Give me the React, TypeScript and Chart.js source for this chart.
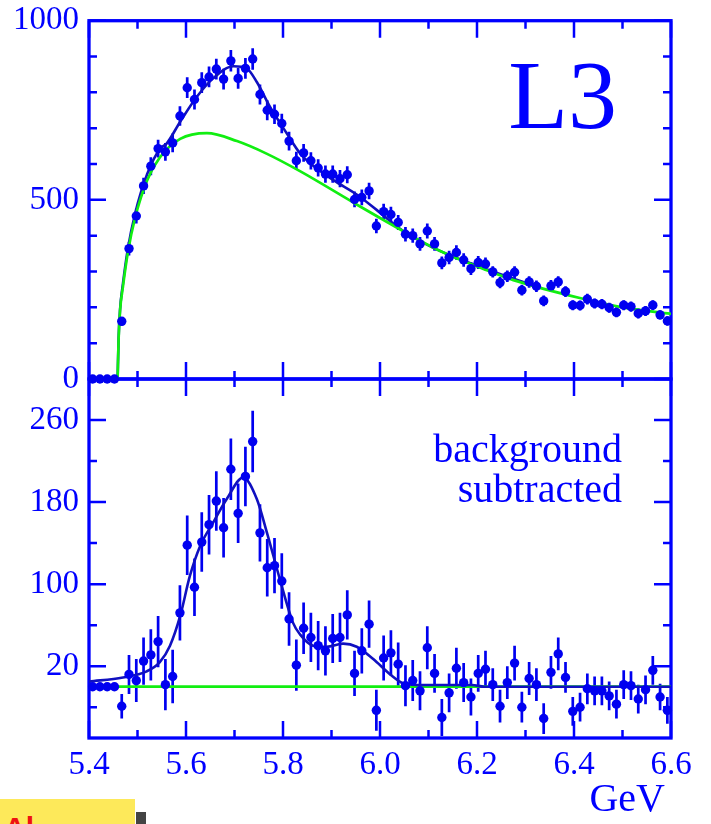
import React, { useEffect, useRef } from 'react';
import { Chart, registerables } from 'chart.js';

Chart.register(...registerables);

// ---------- data ----------
const BIN_CENTERS = [
  5.4075, 5.4225, 5.4375, 5.4525, 5.4675, 5.4825, 5.4975, 5.5125, 5.5275, 5.5425,
  5.5575, 5.5725, 5.5875, 5.6025, 5.6175, 5.6325, 5.6475, 5.6625, 5.6775, 5.6925,
  5.7075, 5.7225, 5.7375, 5.7525, 5.7675, 5.7825, 5.7975, 5.8125, 5.8275, 5.8425,
  5.8575, 5.8725, 5.8875, 5.9025, 5.9175, 5.9325, 5.9475, 5.9625, 5.9775, 5.9925,
  6.0075, 6.0225, 6.0375, 6.0525, 6.0675, 6.0825, 6.0975, 6.1125, 6.1275, 6.1425,
  6.1575, 6.1725, 6.1875, 6.2025, 6.2175, 6.2325, 6.2475, 6.2625, 6.2775, 6.2925,
  6.3075, 6.3225, 6.3375, 6.3525, 6.3675, 6.3825, 6.3975, 6.4125, 6.4275, 6.4425,
  6.4575, 6.4725, 6.4875, 6.5025, 6.5175, 6.5325, 6.5475, 6.5625, 6.5775, 6.5925,
];

const TOP_COUNTS = [
  0, 0, 0, 0, 161, 364, 455, 539, 594, 643,
  634, 659, 734, 813, 780, 827, 843, 865, 837, 888,
  839, 867, 893, 794, 750, 739, 713, 664, 609, 631,
  609, 589, 572, 572, 559, 570, 501, 507, 525, 427,
  467, 459, 437, 404, 400, 377, 413, 377, 324, 339,
  353, 332, 308, 325, 321, 299, 269, 287, 298, 248,
  271, 259, 218, 260, 271, 244, 206, 205, 223, 211,
  209, 199, 186, 206, 202, 183, 190, 206, 179, 162,
];

const BOT_COUNTS = [
  0, 0, 0, 0, -19, 12, 6, 25, 31, 44,
  2, 10, 72, 138, 97, 141, 158, 181, 155, 212,
  169, 205, 239, 150, 116, 118, 103, 66, 21, 57,
  48, 40, 35, 47, 48, 70, 13, 35, 61, -23,
  28, 33, 22, 1, 6, -4, 38, 13, -30, -6,
  18, 4, -10, 13, 17, 2, -19, 4, 23, -20,
  8, 2, -31, 14, 32, 9, -24, -20, -2, -4,
  -4, -9, -17, 2, 1, -12, -3, 16, -10, -23,
];

const ERRORS = [
  0, 0, 0, 0, 12, 19, 21, 23, 25, 25,
  25, 26, 27, 29, 28, 29, 29, 29, 29, 30,
  29, 29, 30, 28, 28, 27, 27, 26, 25, 25,
  24, 24, 24, 24, 24, 24, 22, 22, 23, 20,
  22, 22, 21, 20, 20, 19, 21, 19, 18, 19,
  20, 19, 18, 18, 18, 16, 16, 16, 17, 15,
  16, 16, 15, 16, 16, 15, 14, 14, 15, 14,
  14, 14, 14, 14, 14, 14, 14, 14, 13, 13,
];

// background fit (top panel, green)
const BG_X = [5.459, 5.461, 5.464, 5.470, 5.480, 5.495, 5.520, 5.546, 5.588, 5.643, 5.705, 5.766, 5.835, 5.952, 6.041, 6.124, 6.227, 6.275, 6.412, 6.500, 6.600];
const BG_Y = [0, 110, 190, 258, 352, 450, 555, 618, 670, 686, 664, 629, 580, 487, 418, 357, 300, 276, 226, 200, 182];

// total fit (top panel, blue)
const FIT_TOP_X = [5.459, 5.461, 5.464, 5.470, 5.480, 5.495, 5.520, 5.546, 5.560, 5.588, 5.622, 5.656, 5.698, 5.725, 5.746, 5.773, 5.808, 5.835, 5.856, 5.904, 5.952, 5.993, 6.048, 6.110, 6.200, 6.300];
const FIT_TOP_Y = [0, 112, 194, 266, 362, 461, 572, 642, 657, 718, 787, 839, 873, 867, 829, 760, 685, 630, 602, 555, 515, 472, 413, 366, 316, 268];

// signal fit (bottom panel, blue)
const FIT_BOT_X = [5.400, 5.470, 5.519, 5.546, 5.567, 5.588, 5.608, 5.629, 5.656, 5.684, 5.718, 5.746, 5.767, 5.794, 5.821, 5.835, 5.862, 5.890, 5.924, 5.952, 5.986, 6.021, 6.048, 6.089, 6.190, 6.215, 6.600];
const FIT_BOT_Y = [5, 9, 15, 24, 40, 69, 108, 137, 160, 183, 204, 183, 150, 104, 62, 51, 40, 39, 42, 39, 27, 12, 3.4, 1.6, 1.6, 0, 0];

// background level (bottom panel, green)
const BOT_BG_X = [5.4, 6.6];
const BOT_BG_Y = [0, 0];

// axes
const X_TICKS = [5.4, 5.5, 5.6, 5.7, 5.8, 5.9, 6.0, 6.1, 6.2, 6.3, 6.4, 6.5, 6.6];
const X_LABELED = [5.4, 5.6, 5.8, 6.0, 6.2, 6.4, 6.6];
const TOP_Y_TICKS = [0, 100, 200, 300, 400, 500, 600, 700, 800, 900, 1000];
const TOP_Y_LABELED = [0, 500, 1000];
const BOT_Y_TICKS = [-20, 20, 60, 100, 140, 180, 220, 260];
const BOT_Y_LABELED = [20, 100, 180, 260];

// ---------- styles ----------
const BLUE = '#0000ff';
const POINT_BLUE = '#0000f0';
const FIT_BLUE = '#1010c0';
const GREEN = '#11ee11';
const SERIF = '"Liberation Serif", "Times New Roman", Times, serif';

const pts = (xs: number[], ys: number[]) => xs.map((x, i) => ({ x, y: ys[i] }));
const has = (arr: number[], v: number) => arr.some((a) => Math.abs(a - v) < 1e-6);

type TextItem = { text: string; x: number; y: number; size: number };

const makeDecor = (yTicks: number[], yMajor: number[], values: number[], texts: TextItem[]) => ({
  id: 'decor',
  beforeDatasetsDraw(chart: any) {
    const { ctx, chartArea, scales } = chart;
    const { left, right, top, bottom } = chartArea;
    const xs = scales.x;
    const ys = scales.y;
    ctx.save();
    ctx.strokeStyle = BLUE;
    ctx.lineWidth = 2.5;
    ctx.beginPath();
    X_TICKS.forEach((v) => {
      const px = xs.getPixelForValue(v);
      const len = has(X_LABELED, v) ? 17 : 8;
      ctx.moveTo(px, bottom);
      ctx.lineTo(px, bottom - len);
      ctx.moveTo(px, top);
      ctx.lineTo(px, top + len);
    });
    yTicks.forEach((v) => {
      const py = ys.getPixelForValue(v);
      const len = has(yMajor, v) ? 17 : 8;
      ctx.moveTo(left, py);
      ctx.lineTo(left + len, py);
      ctx.moveTo(right, py);
      ctx.lineTo(right - len, py);
    });
    ctx.stroke();
    ctx.lineWidth = 3.3;
    ctx.strokeRect(left, top, right - left, bottom - top);
    // error bars
    ctx.beginPath();
    BIN_CENTERS.forEach((x, i) => {
      const e = ERRORS[i];
      if (!e) return;
      const px = xs.getPixelForValue(x);
      ctx.moveTo(px, ys.getPixelForValue(values[i] - e));
      ctx.lineTo(px, ys.getPixelForValue(values[i] + e));
    });
    ctx.strokeStyle = POINT_BLUE;
    ctx.lineWidth = 2.7;
    ctx.stroke();
    ctx.restore();
  },
  afterDraw(chart: any) {
    const { ctx } = chart;
    ctx.save();
    ctx.fillStyle = BLUE;
    ctx.textAlign = 'right';
    ctx.textBaseline = 'alphabetic';
    texts.forEach((t) => {
      ctx.font = `${t.size}px ${SERIF}`;
      ctx.fillText(t.text, t.x, t.y);
    });
    ctx.restore();
  },
});

const pointSet = (xs: number[], ys: number[]) => ({
  type: 'scatter' as const,
  data: pts(xs, ys),
  pointRadius: 4.7,
  pointBackgroundColor: POINT_BLUE,
  pointBorderWidth: 0,
  showLine: false,
  clip: false as any,
});

const lineSet = (xs: number[], ys: number[], color: string, width: number) => ({
  type: 'line' as const,
  data: pts(xs, ys),
  borderColor: color,
  borderWidth: width,
  pointRadius: 0,
  fill: false,
  cubicInterpolationMode: 'monotone' as const,
});

const noPad = (s: any) => {
  s.paddingTop = 0;
  s.paddingBottom = 0;
  s.paddingLeft = 0;
  s.paddingRight = 0;
};

const yAxis = (min: number, max: number, ticks: number[], labeled: number[]) => ({
  type: 'linear',
  min,
  max,
  afterFit: (s: any) => {
    s.width = 89;
    noPad(s);
  },
  afterBuildTicks: (s: any) => {
    s.ticks = ticks.map((v) => ({ value: v }));
  },
  grid: { display: false, drawTicks: false },
  border: { display: false },
  ticks: {
    autoSkip: false,
    color: BLUE,
    padding: 10,
    font: { family: SERIF, size: 33 },
    callback: (v: number) => (has(labeled, v) ? String(v) : ''),
  },
});

const topConfig = () => ({
  type: 'scatter',
  data: {
    datasets: [
      pointSet(BIN_CENTERS, TOP_COUNTS),
      lineSet(BG_X, BG_Y, GREEN, 2.7),
      lineSet(FIT_TOP_X, FIT_TOP_Y, FIT_BLUE, 2.6),
    ],
  },
  options: {
    animation: false,
    responsive: false,
    events: [],
    layout: { padding: { left: 0, right: 40, top: 20.7, bottom: 21 } },
    plugins: { legend: { display: false }, tooltip: { enabled: false } },
    scales: {
      x: { type: 'linear', display: false, min: 5.4, max: 6.6 },
      y: yAxis(0, 1000, TOP_Y_TICKS, TOP_Y_LABELED),
    },
  },
  plugins: [makeDecor(TOP_Y_TICKS, TOP_Y_LABELED, TOP_COUNTS, [{ text: 'L3', x: 617, y: 128, size: 98 }])],
});

const BOT_TOP = 360;

const bottomConfig = () => ({
  type: 'scatter',
  data: {
    datasets: [
      pointSet(BIN_CENTERS, BOT_COUNTS),
      lineSet(FIT_BOT_X, FIT_BOT_Y, FIT_BLUE, 2.6),
      lineSet(BOT_BG_X, BOT_BG_Y, GREEN, 2.7),
    ],
  },
  options: {
    animation: false,
    responsive: false,
    events: [],
    layout: { padding: { left: 0, right: 40, top: 379 - BOT_TOP, bottom: 0 } },
    plugins: { legend: { display: false }, tooltip: { enabled: false } },
    scales: {
      x: {
        type: 'linear',
        min: 5.4,
        max: 6.6,
        afterFit: (s: any) => {
          s.height = 824 - 738;
          noPad(s);
        },
        afterBuildTicks: (s: any) => {
          s.ticks = X_TICKS.map((v) => ({ value: v }));
        },
        grid: { display: false, drawTicks: false },
        border: { display: false },
        ticks: {
          autoSkip: false,
          maxRotation: 0,
          color: BLUE,
          padding: 8,
          font: { family: SERIF, size: 33 },
          callback: (v: number) => (has(X_LABELED, v) ? v.toFixed(1) : ''),
        },
      },
      y: yAxis(-50, 300, BOT_Y_TICKS, BOT_Y_LABELED),
    },
  },
  plugins: [
    makeDecor(BOT_Y_TICKS, BOT_Y_LABELED, BOT_COUNTS, [
      { text: 'background', x: 622, y: 462 - BOT_TOP, size: 40 },
      { text: 'subtracted', x: 622, y: 502 - BOT_TOP, size: 40 },
      { text: 'GeV', x: 665, y: 811 - BOT_TOP, size: 40 },
    ]),
  ],
});

function ChartCanvas({ make, top, height }: { make: () => any; top: number; height: number }) {
  const ref = useRef<HTMLCanvasElement>(null);
  useEffect(() => {
    const chart = new Chart(ref.current as HTMLCanvasElement, make());
    return () => chart.destroy();
  }, []);
  return (
    <canvas
      ref={ref}
      width={711}
      height={height}
      style={{ position: 'absolute', left: 0, top, width: 711, height, display: 'block' }}
    />
  );
}

export default function App() {
  return (
    <div
      style={{
        position: 'absolute',
        left: 0,
        top: 0,
        width: 711,
        height: 824,
        background: '#ffffff',
        overflow: 'hidden',
      }}
    >
      <ChartCanvas make={bottomConfig} top={BOT_TOP} height={824 - BOT_TOP} />
      <ChartCanvas make={topConfig} top={0} height={400} />
      <div
        style={{
          position: 'absolute',
          left: 0,
          top: 799,
          width: 135,
          height: 25,
          background: '#fde95a',
          overflow: 'hidden',
        }}
      >
        <span
          style={{
            position: 'absolute',
            left: 4,
            top: 14,
            color: '#ee1111',
            fontFamily: '"Liberation Sans", Arial, sans-serif',
            fontWeight: 'bold',
            fontSize: 30,
            lineHeight: '30px',
          }}
        >
          Al
        </span>
      </div>
      <div style={{ position: 'absolute', left: 136, top: 812, width: 10, height: 12, background: '#444444' }} />
    </div>
  );
}
